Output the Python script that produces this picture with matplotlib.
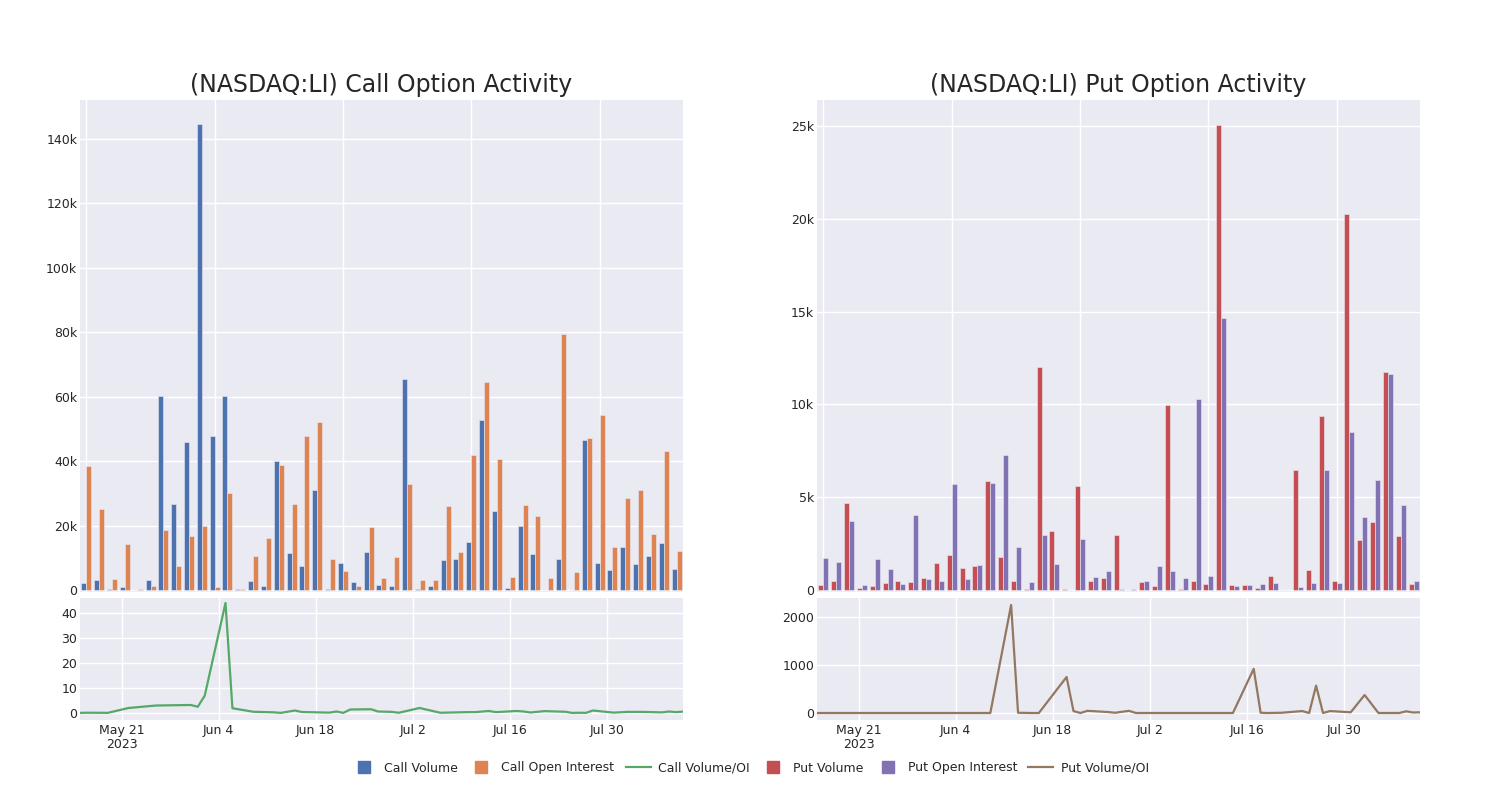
import matplotlib
matplotlib.use("Agg")
import matplotlib.pyplot as plt
from matplotlib.lines import Line2D
from matplotlib.ticker import FuncFormatter, MultipleLocator
import numpy as np
import pandas as pd

# ---- data ----
dates = ["2023-05-15", "2023-05-16", "2023-05-17", "2023-05-18", "2023-05-19",
         "2023-05-22", "2023-05-26", "2023-05-31", "2023-06-01", "2023-06-02",
         "2023-06-05", "2023-06-06", "2023-06-09", "2023-06-12", "2023-06-13",
         "2023-06-15", "2023-06-16", "2023-06-20", "2023-06-21", "2023-06-22",
         "2023-06-23", "2023-06-26", "2023-06-27", "2023-06-29", "2023-06-30",
         "2023-07-03", "2023-07-06", "2023-07-10", "2023-07-11", "2023-07-13",
         "2023-07-14", "2023-07-17", "2023-07-18", "2023-07-19", "2023-07-21",
         "2023-07-24", "2023-07-25", "2023-07-26", "2023-07-27", "2023-07-28",
         "2023-07-31", "2023-08-02", "2023-08-04", "2023-08-07", "2023-08-08",
         "2023-08-09", "2023-08-10"]

call_volume = [2100, 3000, 200, 1000, 100, 3200, 60200, 26700, 46000, 144500,
               47800, 60100, 300, 2800, 1200, 40000, 11600, 7600, 31100, 400,
               8400, 2400, 11900, 1600, 1300, 65500, 200, 1200, 9400, 9500,
               15000, 52700, 24500, 700, 19900, 11200, 50, 9700, 100, 46600,
               8500, 6300, 13200, 8200, 10500, 14600, 6500]
call_oi = [38400, 25200, 3300, 14400, 300, 1300, 18700, 7500, 16900, 19900,
           800, 30100, 300, 10700, 16200, 38700, 26700, 47900, 52200, 9500,
           6000, 1300, 19600, 3600, 10100, 32800, 3100, 3200, 26000, 11800,
           41800, 64500, 40600, 3900, 26300, 23000, 3800, 79400, 5500, 47200,
           54200, 13500, 28600, 31100, 17300, 43200, 12000]
call_ratio = [0.05, 0.12, 0.1, 0.09, 0.05, 2.0, 3.0, 3.2, 2.5, 6.9,
              44.0, 1.9, 0.5, 0.26, 0.05, 1.0, 0.4, 0.15, 0.6, 0.05,
              1.4, 1.5, 0.6, 0.45, 0.1, 2.0, 0.1, 0.35, 0.35, 0.8,
              0.35, 0.8, 0.6, 0.2, 0.75, 0.5, 0.05, 0.1, 0.05, 1.0,
              0.15, 0.45, 0.45, 0.25, 0.6, 0.35, 0.55]

put_volume = [270, 470, 4710, 130, 230, 360, 470, 450, 630, 1470,
              1870, 1200, 1310, 5880, 1800, 490, 70, 12020, 3200, 50,
              5630, 470, 670, 2970, 20, 450, 200, 9970, 70, 470,
              310, 25070, 250, 250, 110, 740, 20, 6470, 1100, 9380,
              490, 20270, 2680, 3690, 11750, 2930, 340]
put_oi = [1710, 1510, 3700, 250, 1690, 1150, 310, 4060, 610, 490,
          5700, 590, 1350, 5740, 7250, 2340, 450, 2970, 1400, 20,
          2770, 700, 1040, 40, 70, 500, 1300, 1000, 670, 10300,
          760, 14660, 220, 270, 310, 360, 10, 160, 400, 6470,
          360, 8520, 3940, 5940, 11640, 4570, 500]
put_ratio = [0, 0, 0, 0, 0, 0, 0, 0, 0, 0,
             0, 0, 0, 2250, 5, 0, 0, 750, 40, 0,
             45, 20, 5, 45, 0, 0, 0, 0, 0, 0,
             0, 920, 5, 0, 5, 40, 0, 570, 0, 40,
             15, 375, 0, 0, 35, 10, 15]

# ---- style ----
BG = "#EAEAF2"
TXT = "#262626"
C_BLUE, C_ORANGE, C_GREEN = "#4C72B0", "#DD8452", "#55A868"
C_RED, C_PURPLE, C_BROWN = "#C44E52", "#8172B3", "#937860"

plt.rcParams["font.family"] = ["DejaVu Sans"]
plt.rcParams["text.color"] = TXT
plt.rcParams["xtick.color"] = TXT
plt.rcParams["ytick.color"] = TXT

x_dates = pd.to_datetime(dates)
cats = np.arange(len(dates))
tick_days = pd.to_datetime(["2023-05-21", "2023-06-04", "2023-06-18",
                            "2023-07-02", "2023-07-16", "2023-07-30"])
tick_labels = ["May 21\n2023", "Jun 4", "Jun 18", "Jul 2", "Jul 16", "Jul 30"]


def kfmt(v, _):
    if v == 0:
        return "0"
    return f"{v / 1000:g}k"


def style_ax(ax):
    ax.set_facecolor(BG)
    for s in ax.spines.values():
        s.set_visible(False)
    ax.grid(True, color="white", linewidth=1.0)
    ax.set_axisbelow(True)
    ax.tick_params(length=0, labelsize=9)
    ax.tick_params(axis="y", pad=2)
    ax.tick_params(axis="x", pad=3)


def panel(left, title, vol, oi, ratio, c1, c2, c3, ymax_top, ylim_bot, ystep_top, ystep_bot):
    ax_top = fig.add_axes([left, 0.26, 0.402, 0.615])
    ax_bot = fig.add_axes([left, 0.10, 0.402, 0.1525])
    for ax in (ax_top, ax_bot):
        style_ax(ax)

    w = 0.39
    ax_top.bar(cats - w / 2, vol, width=w, color=c1, edgecolor=BG, linewidth=0.4)
    ax_top.bar(cats + w / 2, oi, width=w, color=c2, edgecolor=BG, linewidth=0.4)
    ax_top.set_xlim(-0.5, len(cats) - 0.5)
    ax_top.set_ylim(-ymax_top * 0.004, ymax_top)
    ax_top.set_xticks(cats[::10])
    ax_top.set_xticklabels([])
    ax_top.yaxis.set_major_locator(MultipleLocator(ystep_top))
    ax_top.yaxis.set_major_formatter(FuncFormatter(kfmt))
    ax_top.set_title(title, fontsize=17, color=TXT, pad=6)

    ax_bot.plot(x_dates, ratio, color=c3, linewidth=1.6)
    ax_bot.set_xlim(x_dates[0], x_dates[-1])
    ax_bot.set_ylim(*ylim_bot)
    ax_bot.yaxis.set_major_locator(MultipleLocator(ystep_bot))
    ax_bot.set_xticks(tick_days)
    ax_bot.set_xticklabels(tick_labels, linespacing=1.05)
    return ax_top, ax_bot


fig = plt.figure(figsize=(15, 8), dpi=100)

panel(0.0533, "(NASDAQ:LI) Call Option Activity", call_volume, call_oi, call_ratio,
      C_BLUE, C_ORANGE, C_GREEN, 152000, (-2.8, 46.0), 20000, 10)
panel(0.5447, "(NASDAQ:LI) Put Option Activity", put_volume, put_oi, put_ratio,
      C_RED, C_PURPLE, C_BROWN, 26400, (-146, 2396), 5000, 1000)

handles = [
    Line2D([], [], marker="s", linestyle="none", markersize=9, color=C_BLUE),
    Line2D([], [], marker="s", linestyle="none", markersize=9, color=C_ORANGE),
    Line2D([], [], color=C_GREEN, linewidth=1.6),
    Line2D([], [], marker="s", linestyle="none", markersize=9, color=C_RED),
    Line2D([], [], marker="s", linestyle="none", markersize=9, color=C_PURPLE),
    Line2D([], [], color=C_BROWN, linewidth=1.6),
]
labels = ["Call Volume", "Call Open Interest", "Call Volume/OI",
          "Put Volume", "Put Open Interest", "Put Volume/OI"]
fig.legend(handles, labels, loc="center", bbox_to_anchor=(0.5, 0.04), ncol=6,
           frameon=False, fontsize=9, handlelength=2.0, columnspacing=0.9,
           handletextpad=0.6)

fig.savefig("out.png", dpi=100)
